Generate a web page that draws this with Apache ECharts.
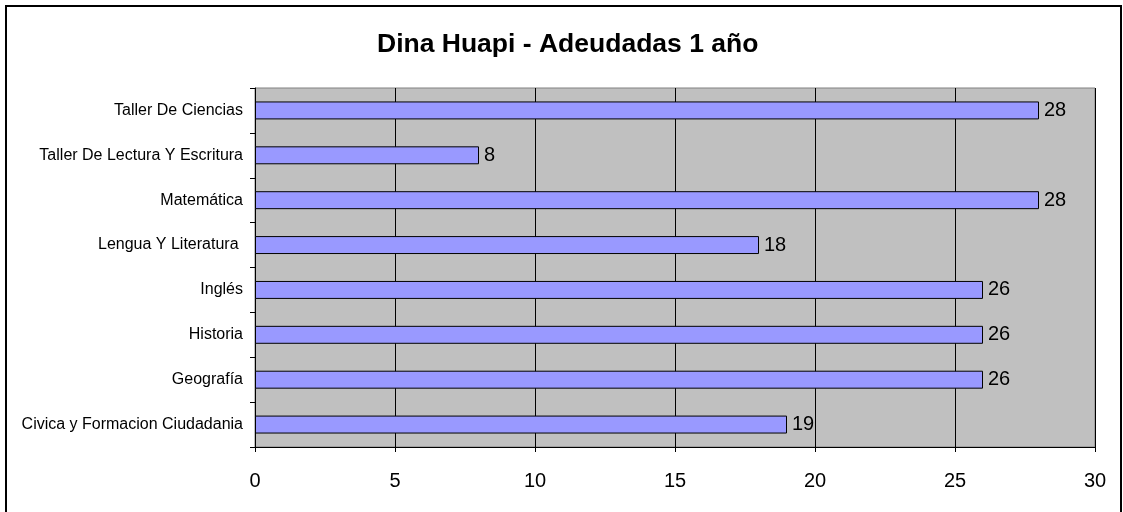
<!DOCTYPE html>
<html lang="es">
<head>
<meta charset="UTF-8">
<title>Dina Huapi - Adeudadas 1 año</title>
<script src="https://cdn.jsdelivr.net/npm/echarts@6/dist/echarts.min.js"></script>
<style>
  html, body { margin: 0; padding: 0; background: #fff; }
  #chart { width: 1123px; height: 512px; }
</style>
</head>
<body>
<div id="chart"></div>
<script type="text/javascript">
// materias (de abajo hacia arriba, como en el eje)
var materias = [
  'Civica y Formacion Ciudadania',
  'Geografía',
  'Historia',
  'Inglés',
  'Lengua Y Literatura ',
  'Matemática',
  'Taller De Lectura Y Escritura',
  'Taller De Ciencias'
];
var adeudadas = [19, 26, 26, 26, 18, 28, 8, 28];
var ejeX = { min: 0, max: 30, interval: 5 };

var fuente = '"Liberation Sans", Arial, sans-serif';
var myChart = echarts.init(document.getElementById('chart'));

var option = {
  animation: false,
  backgroundColor: '#ffffff',
  title: {
    text: 'Dina Huapi - Adeudadas 1 año',
    left: 372,
    top: 26,
    textStyle: { fontFamily: fuente, fontSize: 26.5, fontWeight: 'bold', color: '#000' }
  },
  // marco exterior
  graphic: [{
    type: 'rect',
    shape: { x: 6, y: 6, width: 1115, height: 530 },
    style: { fill: 'none', stroke: '#000', lineWidth: 2 },
    silent: true
  }],
  grid: {
    left: 255,
    right: 28,
    top: 88,
    bottom: 65,
    show: true,
    backgroundColor: '#C0C0C0',
    borderColor: '#808080',
    borderWidth: 1
  },
  xAxis: {
    type: 'value',
    min: ejeX.min,
    max: ejeX.max,
    interval: ejeX.interval,
    axisLine: { show: true, lineStyle: { color: '#000', width: 1 } },
    axisTick: { show: true, length: 5, lineStyle: { color: '#000' } },
    axisLabel: { fontFamily: fuente, fontSize: 20, color: '#000', margin: 24 },
    splitLine: { show: true, lineStyle: { color: '#000', width: 1 } }
  },
  yAxis: {
    type: 'category',
    data: materias,
    axisLine: { show: true, lineStyle: { color: '#000', width: 1 } },
    axisTick: { show: true, length: 5, lineStyle: { color: '#000' } },
    axisLabel: { fontFamily: fuente, fontSize: 16, color: '#000', margin: 12 },
    splitLine: { show: false }
  },
  series: [{
    type: 'bar',
    data: adeudadas,
    barCategoryGap: '60%',
    itemStyle: { color: '#9999FF', borderColor: '#000', borderWidth: 1 },
    label: {
      show: true,
      position: 'right',
      distance: 5,
      fontFamily: fuente,
      fontSize: 20,
      color: '#000'
    }
  }]
};

if (option && typeof option === "object") {
  myChart.setOption(option, true);
}
</script>
</body>
</html>
